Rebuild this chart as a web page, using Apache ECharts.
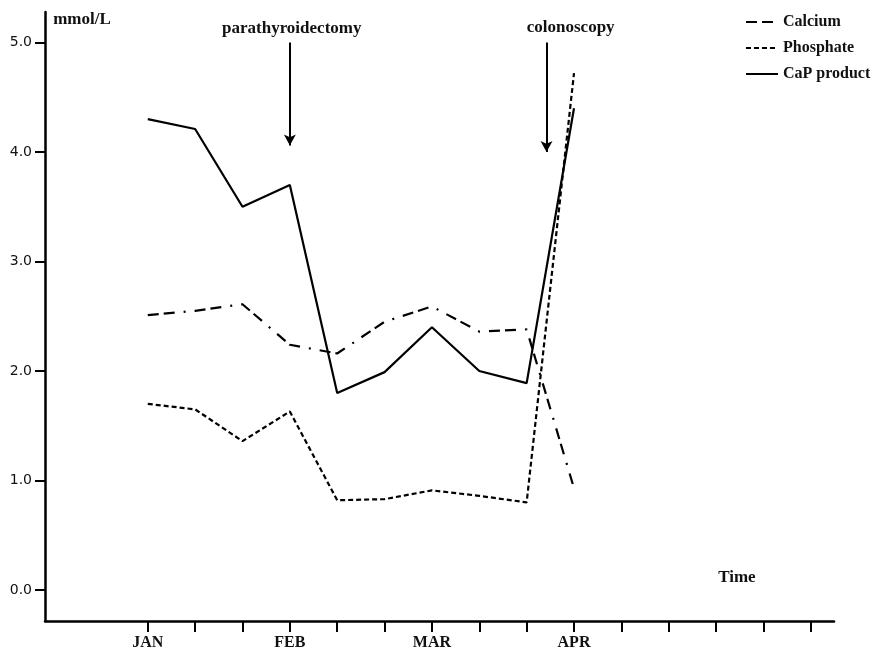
<!DOCTYPE html>
<html>
<head>
<meta charset="utf-8">
<script src="https://cdn.jsdelivr.net/npm/echarts@6/dist/echarts.min.js"></script>
<style>html,body{margin:0;padding:0;background:#fff}#c{width:873px;height:653px}</style>
</head>
<body>
<div id="c"></div>
<script>
// Tick labels along the time axis (15 ticks, first data point at JAN)
var tickLabels = ['JAN','','','FEB','','','MAR','','','APR','','','','',''];
// Series values (mmol/L) at successive ticks starting from JAN
var calcium   = [2.51, 2.55, 2.61, 2.24, 2.16, 2.45, 2.59, 2.36, 2.38, 0.93];
var phosphate = [1.70, 1.65, 1.36, 1.63, 0.82, 0.83, 0.91, 0.86, 0.80, 4.72];
var capProduct= [4.30, 4.21, 3.50, 3.70, 1.80, 1.99, 2.40, 2.00, 1.89, 4.40];
var yTicks = [0, 1, 2, 3, 4, 5];
// Events marked with arrows: [tick position, arrow top, arrow tip]
var events = [
  {name:'parathyroidectomy', x:3,    top:5.0, tip:4.06, labelX:3.04, labelY:5.13},
  {name:'colonoscopy',       x:8.42, top:5.0, tip:4.00, labelX:8.93, labelY:5.14}
];

var serifBold = {fontFamily:'Liberation Serif', fontWeight:'bold', fontSize:16, color:'#111'};
function pairs(arr){ return arr.map(function(v,i){ return [i, v]; }); }

var chart = echarts.init(document.getElementById('c'), null, {renderer:'canvas'});
var option = {
  animation:false,
  backgroundColor:'#fff',
  grid:{left:45, right:39, top:12, bottom:32},
  legend:{
    orient:'vertical', left:740, top:9,
    itemWidth:32, itemHeight:15, itemGap:10,
    textStyle:serifBold,
    itemStyle:{opacity:0},
    data:['Calcium','Phosphate','CaP product']
  },
  xAxis:{
    type:'value', min:-2.17, max:14.49,
    splitLine:{show:false},
    axisLine:{onZero:false, lineStyle:{color:'#000', width:2.5}},
    axisTick:{customValues:tickLabels.map(function(_,i){return i;}), length:11, lineStyle:{color:'#000', width:2}},
    axisLabel:{customValues:tickLabels.map(function(t,i){return t?i:null;}).filter(function(v){return v!==null;}),
      formatter:function(v){return tickLabels[Math.round(v)];}, margin:14,
      fontFamily:'Liberation Serif', fontWeight:'bold', fontSize:16, color:'#111'}
  },
  yAxis:{
    type:'value', min:-0.283, max:5.279,
    splitLine:{show:false},
    axisLine:{show:true, onZero:false, lineStyle:{color:'#000', width:2.5}},
    axisTick:{show:true, customValues:yTicks, length:10, lineStyle:{color:'#000', width:2}},
    axisLabel:{customValues:yTicks, formatter:function(v){return v.toFixed(1);}, margin:13,
      fontFamily:'DejaVu Sans', fontSize:14, color:'#111'}
  },
  series:[
    {name:'Calcium', type:'line', data:pairs(calcium), symbol:'none',
     lineStyle:{color:'#000', width:2.2, type:[11,5,11,9,2,9]}, itemStyle:{color:'#000'}},
    {name:'Phosphate', type:'line', data:pairs(phosphate), symbol:'none',
     lineStyle:{color:'#000', width:2.2, type:[5,3]}, itemStyle:{color:'#000'}},
    {name:'CaP product', type:'line', data:pairs(capProduct), symbol:'none',
     lineStyle:{color:'#000', width:2.2, type:'solid'}, itemStyle:{color:'#000'},
     markLine:{
       silent:true, symbol:['none','arrow'], symbolSize:[9,11],
       lineStyle:{color:'#000', width:2, type:'solid'},
       label:{show:false},
       data:events.map(function(e){ return [{coord:[e.x, e.top]}, {coord:[e.x, e.tip]}]; })
     },
     markPoint:{
       silent:true, symbol:'rect', symbolSize:1, itemStyle:{color:'rgba(0,0,0,0)'},
       label:{show:true, position:'inside', formatter:'{b}', fontFamily:'Liberation Serif', fontWeight:'bold', fontSize:17, color:'#111'},
       data:events.map(function(e){ return {name:e.name, coord:[e.labelX, e.labelY]}; }).concat([
         {name:'mmol/L', coord:[-1.39, 5.21]},
         {name:'Time', coord:[12.44, 0.11]}
       ])
     }
    }
  ]
};
chart.setOption(option);
</script>
</body>
</html>
